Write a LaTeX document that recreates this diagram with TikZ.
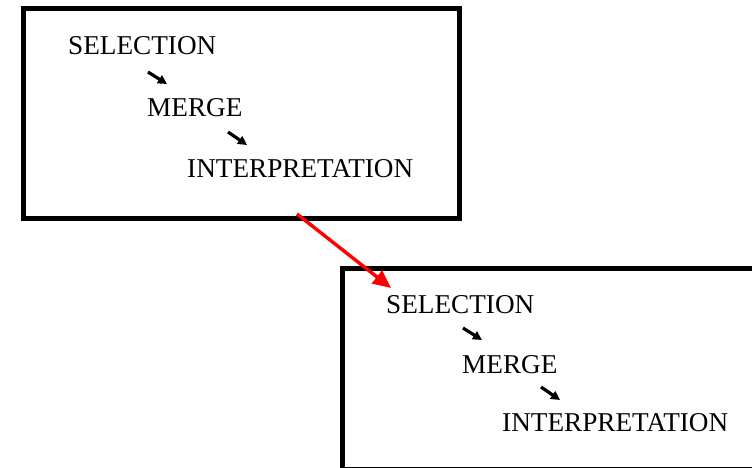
\documentclass[tikz,border=0pt]{standalone}
\usepackage{fontspec}
\setmainfont{Liberation Serif}
\usetikzlibrary{arrows.meta}
\begin{document}
\begin{tikzpicture}[x=1pt,y=-1pt,
  frame/.style={draw=black,line width=5pt},
  word/.style={anchor=base west,inner sep=0pt,font=\fontsize{27.2}{30}\selectfont},
  stepArrow/.style={line width=3.2pt,-{Triangle[length=9pt,width=9pt]}},
  linkArrow/.style={draw=red,line width=3.4pt,-{Triangle[length=18pt,width=16pt]}}]
  \useasboundingbox (0,0) rectangle (752,468);
  \clip (0,0) rectangle (752,468);

  % first frame
  \draw[frame] (23.5,8.5) rectangle (459,218.5);
  \node[word] (sel1) at (68,55) {SELECTION};
  \node[word] (mer1) at (147,117) {MERGE};
  \node[word] (int1) at (187,177) {INTERPRETATION};
  \coordinate (s1a) at (148,72);  \coordinate (s1b) at (167,84);
  \coordinate (s2a) at (228,132); \coordinate (s2b) at (247,145);
  \draw[stepArrow] (s1a) -- (s1b);
  \draw[stepArrow] (s2a) -- (s2b);

  % second frame, running past the page edges
  \draw[frame] (342.5,268) rectangle (770,469);
  \node[word] (sel2) at (386,313) {SELECTION};
  \node[word] (mer2) at (462,373) {MERGE};
  \node[word] (int2) at (502,431) {INTERPRETATION};
  \coordinate (t1a) at (463,328); \coordinate (t1b) at (482,340);
  \coordinate (t2a) at (541,387); \coordinate (t2b) at (560,400);
  \draw[stepArrow] (t1a) -- (t1b);
  \draw[stepArrow] (t2a) -- (t2b);

  % link between the frames
  \coordinate (from) at (297,214);
  \coordinate (to) at (391,288);
  \draw[linkArrow] (from) -- (to);
\end{tikzpicture}
\end{document}
